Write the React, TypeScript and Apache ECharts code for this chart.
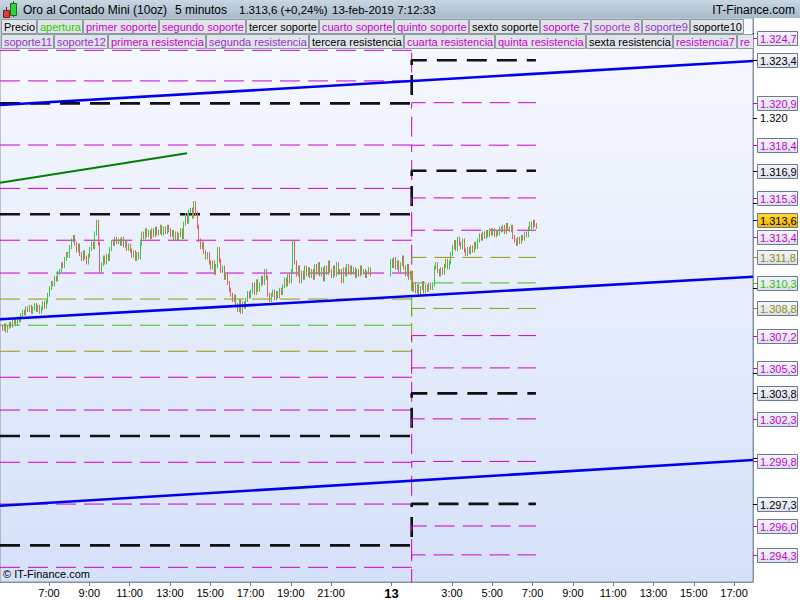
import React, { useEffect, useRef } from 'react';
import * as echarts from 'echarts';

const FONT = '"Liberation Sans", Arial, Helvetica, sans-serif';

// Time is expressed in hours since 12 Feb 2019 00:00 (5-minute bars).
const X_MIN = 4.568;
const X_MAX = 41.94;
const Y_MIN = 1292.706;
const Y_MAX = 1325.882;
const DAY_BREAK = 25; // 13 Feb 1:00, new pivot levels take over
const PLOT_RIGHT = 753;

// 12 Feb 2019, 4:40 to 22:55
const FEB12_FIRST_BAR = 4 + 40 / 60;
const FEB12_OPEN = 1307.7;
const closesFeb12: number[] = [
  // 4:40
  1307.6, 1307.8, 1307.5, 1307.7,
  // 5:00
  1307.9, 1307.8, 1308.0, 1308.1, 1307.9, 1308.2, 1308.1, 1308.4, 1308.6, 1308.5, 1308.8, 1308.7,
  // 6:00
  1308.9, 1308.6, 1308.8, 1309.0, 1308.7, 1308.9, 1308.6, 1308.8, 1309.1, 1308.9, 1309.2, 1309.6,
  // 7:00
  1310.0, 1310.3, 1310.2, 1310.6, 1310.5, 1310.9, 1311.0, 1311.4, 1311.3, 1311.7, 1312.0, 1311.9,
  // 8:00
  1312.4, 1312.8, 1313.0, 1312.6, 1312.2, 1312.5, 1312.0, 1311.7, 1312.1, 1311.8, 1311.5, 1311.9,
  // 9:00
  1312.3, 1312.6, 1312.4, 1313.2, 1313.9, 1312.6, 1311.0, 1311.4, 1311.8, 1311.5, 1311.9, 1311.7,
  // 10:00
  1312.3, 1312.7, 1312.6, 1312.9, 1312.7, 1312.8, 1312.6, 1312.9, 1312.5, 1312.7, 1312.3, 1312.5,
  // 11:00
  1312.2, 1311.9, 1312.1, 1311.7, 1312.0, 1311.8, 1312.6, 1313.2, 1313.0, 1313.4, 1313.1, 1313.3,
  // 12:00
  1313.0, 1313.4, 1313.1, 1313.5, 1313.2, 1313.3, 1313.6, 1313.2, 1313.5, 1313.3, 1313.6, 1313.4,
  // 13:00
  1313.1, 1313.3, 1312.9, 1313.2, 1312.9, 1313.1, 1313.4, 1313.0, 1313.8, 1314.3, 1313.9, 1314.5,
  // 14:00
  1314.6, 1314.2, 1315.0, 1314.4, 1313.6, 1312.8, 1312.4, 1312.6, 1312.1, 1311.8, 1312.0, 1311.5,
  // 15:00
  1311.2, 1311.5, 1310.9, 1311.3, 1312.3, 1311.6, 1311.0, 1311.2, 1310.6, 1310.8, 1310.3, 1309.9,
  // 16:00
  1309.6, 1309.3, 1309.5, 1309.0, 1308.7, 1309.2, 1308.6, 1309.1, 1308.9, 1309.3, 1309.7, 1309.5,
  // 17:00
  1309.8, 1310.2, 1309.7, 1310.4, 1309.9, 1310.2, 1310.6, 1310.3, 1311.0, 1310.6, 1309.6, 1309.3,
  // 18:00
  1309.6, 1309.8, 1309.4, 1309.7, 1309.5, 1309.9, 1309.7, 1310.1, 1310.5, 1310.2, 1310.7, 1310.4,
  // 19:00
  1311.0, 1312.7, 1311.5, 1310.8, 1311.2, 1310.4, 1310.9, 1310.6, 1311.2, 1310.8, 1311.1, 1310.7,
  // 20:00
  1311.0, 1310.6, 1311.3, 1310.9, 1311.4, 1310.8, 1311.1, 1310.5, 1311.2, 1310.9, 1311.5, 1311.0,
  // 21:00
  1310.7, 1311.2, 1310.8, 1311.4, 1310.9, 1311.0, 1310.4, 1311.1, 1310.8, 1311.3, 1310.9, 1311.2,
  // 22:00
  1310.9, 1311.1, 1310.7, 1311.0, 1310.8, 1311.2, 1310.9, 1311.0, 1310.7, 1310.9, 1311.1, 1310.8,
];

// 12 Feb 23:55 to 13 Feb 7:10
const FEB13_FIRST_BAR = 23 + 55 / 60;
const closesFeb13: number[] = [
  // 23:55
  1311.6,
  // 0:00
  1311.3, 1311.7, 1311.2, 1311.5, 1311.0, 1311.4, 1311.8, 1311.2, 1310.8, 1311.3, 1310.6, 1310.9,
  // 1:00
  1309.9, 1310.2, 1309.8, 1310.1, 1309.7, 1310.0, 1310.3, 1309.8, 1310.1, 1309.9, 1310.2, 1310.0,
  // 2:00
  1310.2, 1311.2, 1311.4, 1311.0, 1310.8, 1311.1, 1310.9, 1311.3, 1311.6, 1311.2, 1311.5, 1312.0,
  // 3:00
  1312.4, 1312.7, 1312.3, 1312.9, 1312.6, 1312.4, 1312.8, 1312.2, 1312.0, 1312.3, 1312.1, 1312.4,
  // 4:00
  1312.2, 1312.6, 1312.4, 1312.8, 1313.1, 1312.9, 1313.2, 1313.0, 1313.3, 1313.1, 1313.4, 1313.2,
  // 5:00
  1313.4, 1313.1, 1313.3, 1313.2, 1313.5, 1313.4, 1313.6, 1313.3, 1313.7, 1313.5, 1313.4, 1313.6,
  // 6:00
  1313.0, 1312.8, 1312.6, 1312.9, 1312.7, 1313.0, 1312.9, 1313.2, 1313.1, 1313.5, 1313.8, 1313.6,
  // 7:00
  1313.9, 1313.7, 1313.6,
];

const INSTRUMENT = 'Oro al Contado Mini (10oz)';
const PERIOD = '5 minutos';
const CHANGE_PCT = '+0,24%';
const TIMESTAMP = '13-feb-2019 7:12:33';

// Pivot levels: value on 12 Feb, value on 13 Feb, and the kind of level
const levelsFeb12: number[] = [
  1323.98, 1322.18, 1320.86, 1318.41, 1315.86, 1314.34, 1312.81, 1310.88, 1309.35, 1307.81,
  1306.28, 1304.75, 1302.82, 1301.29, 1299.75, 1297.29, 1294.86, 1293.57, 1291.8,
];
const levelsFeb13: number[] = [
  1326.5, 1324.7, 1323.4, 1320.9, 1318.4, 1316.9, 1315.3, 1313.4, 1311.8, 1310.3,
  1308.8, 1307.2, 1305.3, 1303.8, 1302.3, 1299.8, 1297.3, 1296.0, 1294.3,
];
const levelKinds: string[] = [
  'm', 'm', 'B', 'm', 'm', 'B', 'm', 'm', 'o', 'g', 'o', 'm', 'm', 'B', 'm', 'm', 'B', 'm', 'm',
];

// Trend lines [time, price]
const channelTop: number[][] = [[X_MIN, 1320.76], [X_MAX, 1323.35]];
const channelMid: number[][] = [[X_MIN, 1308.16], [X_MAX, 1310.66]];
const channelLow: number[][] = [[X_MIN, 1297.19], [X_MAX, 1299.88]];
const shortTrend: number[][] = [[X_MIN, 1316.19], [13.85, 1317.92]];

const xTickHours: number[] = [7, 9, 11, 13, 15, 17, 19, 21, 24, 27, 29, 31, 33, 35, 37, 39, 41];
const yTickPrices: number[] = [1300, 1305, 1310, 1315, 1320, 1325];

const legendRow1: string[] = [
  'Precio', 'apertura', 'primer soporte', 'segundo soporte', 'tercer soporte', 'cuarto soporte',
  'quinto soporte', 'sexto soporte', 'soporte 7', 'soporte 8', 'soporte9', 'soporte10',
];
const legendRow2: string[] = [
  'soporte11', 'soporte12', 'primera resistencia', 'segunda resistencia', 'tercera resistencia',
  'cuarta resistencia', 'quinta resistencia', 'sexta resistencia', 'resistencia7', 'resistencia8',
];

const MAGENTA = '#cc00cc';
const PURPLE = '#9933cc';
const VIOLET = '#b030d0';
const GREEN_TXT = '#33cc00';
const legendColors1 = ['#000', GREEN_TXT, MAGENTA, MAGENTA, '#000', MAGENTA, MAGENTA, '#000', MAGENTA, VIOLET, PURPLE, '#000'];
const legendColors2 = [PURPLE, PURPLE, MAGENTA, PURPLE, '#000', MAGENTA, MAGENTA, '#000', MAGENTA, MAGENTA];

const kindLine: Record<string, { color: string; width: number; dash: number[] }> = {
  m: { color: '#cc00cc', width: 1, dash: [20, 8] },
  B: { color: '#111111', width: 2.6, dash: [20, 10] },
  o: { color: '#999900', width: 1, dash: [20, 8] },
  g: { color: '#44c020', width: 1, dash: [20, 8] },
};
const kindText: Record<string, string> = { m: '#cc00cc', B: '#000000', o: '#8f8f00', g: '#33bb00' };

function fmtPrice(v: number, dec: number): string {
  const s = v.toFixed(dec);
  const [int, frac] = s.split('.');
  const grouped = int.replace(/\B(?=(\d{3})+(?!\d))/g, '.');
  return frac ? `${grouped},${frac}` : grouped;
}

function buildBars(first: number, open: number, closes: number[]): number[][] {
  return closes.map((c, i) => [first + i / 12, i === 0 ? open : closes[i - 1], c]);
}

export default function App() {
  const ref = useRef<HTMLDivElement>(null);

  useEffect(() => {
    const el = ref.current!;
    const chart = echarts.init(el, null, { renderer: 'svg' });

    const bars = [
      ...buildBars(FEB12_FIRST_BAR, FEB12_OPEN, closesFeb12),
      ...buildBars(FEB13_FIRST_BAR, closesFeb12[closesFeb12.length - 1], closesFeb13),
    ];
    const lastBarTime = FEB13_FIRST_BAR + (closesFeb13.length - 1) / 12;
    const lastClose = closesFeb13[closesFeb13.length - 1];

    const levelSeries = levelsFeb12.map((l, i) => {
      const st = kindLine[levelKinds[i]];
      return {
        type: 'line',
        data: [[X_MIN, l], [DAY_BREAK, l], [DAY_BREAK, levelsFeb13[i]], [lastBarTime, levelsFeb13[i]]],
        symbol: 'none',
        silent: true,
        z: 2,
        lineStyle: { color: st.color, width: st.width, type: st.dash, cap: 'butt' },
      };
    });

    const trend = (data: number[][], color: string, width: number) => ({
      type: 'line',
      data,
      symbol: 'none',
      silent: true,
      z: 4,
      lineStyle: { color, width, type: 'solid' },
    });

    const option: any = {
      animation: false,
      backgroundColor: '#ffffff',
      grid: {
        left: 0,
        right: 800 - PLOT_RIGHT,
        top: 18,
        bottom: 18,
        show: true,
        borderColor: '#8494a4',
        borderWidth: 1,
        backgroundColor: {
          type: 'linear', x: 0, y: 0, x2: 0, y2: 1,
          colorStops: [
            { offset: 0, color: '#f8f9ff' },
            { offset: 1, color: '#d5e1f9' },
          ],
        },
      },
      xAxis: {
        type: 'value',
        min: X_MIN,
        max: X_MAX,
        splitLine: { show: false },
        axisLine: { show: true, lineStyle: { color: '#8494a4' } },
        axisTick: { show: true, customValues: xTickHours, length: 4, lineStyle: { color: '#6f7f8f' } },
        axisLabel: {
          customValues: xTickHours,
          color: '#000',
          fontSize: 11,
          fontFamily: FONT,
          margin: 5,
          formatter: (v: number) => (Math.round(v) === 24 ? '{d|13}' : `${Math.round(v) % 24}:00`),
          rich: { d: { fontWeight: 'bold', fontSize: 13, fontFamily: FONT, color: '#000' } },
        },
      },
      yAxis: {
        type: 'value',
        position: 'right',
        min: Y_MIN,
        max: Y_MAX,
        scale: true,
        splitLine: { show: false },
        axisLine: { show: true, lineStyle: { color: '#8494a4' } },
        axisTick: { show: true, customValues: yTickPrices, length: 4, lineStyle: { color: '#000' } },
        axisLabel: {
          customValues: yTickPrices,
          color: '#000',
          fontSize: 11,
          fontFamily: FONT,
          margin: 7,
          formatter: (v: number) => fmtPrice(v, 0),
        },
      },
      series: [
        ...levelSeries,
        {
          type: 'custom',
          data: bars,
          encode: { x: 0, y: [1, 2] },
          clip: true,
          silent: true,
          z: 3,
          renderItem: (_params: any, api: any) => {
            const t = api.value(0);
            const o = api.value(1);
            const c = api.value(2);
            const p1 = api.coord([t, o]);
            const p2 = api.coord([t, c]);
            // bar body plus a short wick on both ends
            const y1 = Math.min(p1[1], p2[1]) - 2;
            const y2 = Math.max(p1[1], p2[1]) + 2;
            return {
              type: 'rect',
              shape: { x: Math.round(p1[0]), y: y1, width: 1, height: y2 - y1 },
              style: { fill: c >= o ? '#3ec83e' : '#e06262' },
            };
          },
        },
        trend(channelTop, '#0000ee', 2.6),
        trend(channelMid, '#0000ee', 2.6),
        trend(channelLow, '#0000ee', 2.6),
        trend(shortTrend, '#008000', 2),
      ],
    };

    chart.setOption(option);

    // ---- overlays: title bar, legend rows, price tags ----
    const ctx = document.createElement('canvas').getContext('2d')!;
    ctx.font = `11px ${FONT}`;
    const textW = (t: string) => ctx.measureText(t).width;

    const txt = (x: number, y: number, text: string, fill: string, font: string, align = 'left', z = 101) => ({
      type: 'text',
      x,
      y,
      z,
      silent: true,
      style: {
        text, fill, font,
        align, textAlign: align,
        verticalAlign: 'middle', textVerticalAlign: 'middle',
      },
    });

    const elements: any[] = [];

    // Title bar
    elements.push({
      type: 'rect', z: 100, silent: true,
      shape: { x: 0, y: 0, width: 800, height: 18 },
      style: {
        fill: {
          type: 'linear', x: 0, y: 0, x2: 0, y2: 1,
          colorStops: [{ offset: 0, color: '#c9d7e3' }, { offset: 1, color: '#a6bac9' }],
        },
      },
    });
    // candle icon
    elements.push({ type: 'line', z: 101, silent: true, shape: { x1: 6.5, y1: 7, x2: 6.5, y2: 18 }, style: { stroke: '#702020', lineWidth: 1 } });
    elements.push({ type: 'rect', z: 102, silent: true, shape: { x: 3.5, y: 10.5, width: 6, height: 7 }, style: { fill: '#e03a3a', stroke: '#702020', lineWidth: 1 } });
    elements.push({ type: 'line', z: 101, silent: true, shape: { x1: 13.5, y1: 1, x2: 13.5, y2: 17 }, style: { stroke: '#1f6a1f', lineWidth: 1 } });
    elements.push({ type: 'rect', z: 102, silent: true, shape: { x: 10.5, y: 3.5, width: 6, height: 12 }, style: { fill: '#3ad03a', stroke: '#1f6a1f', lineWidth: 1 } });

    const titleFont = `12px ${FONT}`;
    elements.push(txt(23, 9.5, INSTRUMENT, '#000', titleFont));
    elements.push(txt(175, 9.5, PERIOD, '#000', titleFont));
    elements.push(txt(239, 9.5, `${fmtPrice(lastClose, 1)} (${CHANGE_PCT})`, '#000', `11.5px ${FONT}`));
    elements.push(txt(332, 9.5, TIMESTAMP, '#000', `11.5px ${FONT}`));
    elements.push(txt(795, 9.5, 'IT-Finance.com', '#000', `12px ${FONT}`, 'right'));

    // Legend rows; an entry running past the plot's right edge is cut off there
    const legendRow = (names: string[], colors: string[], y: number) => {
      let x = 1;
      names.forEach((name, i) => {
        if (x >= PLOT_RIGHT) return;
        let w = Math.round(textW(name) + 4);
        let label = name;
        if (x + w > PLOT_RIGHT) {
          w = PLOT_RIGHT - x;
          while (label.length > 0 && textW(label) + 3 > w) label = label.slice(0, -1);
        }
        elements.push({
          type: 'rect', z: 100, silent: true,
          shape: { x: x + 0.5, y: y + 0.5, width: w, height: 14 },
          style: { fill: '#dfe4e8', stroke: '#8e99a3', lineWidth: 1 },
        });
        if (label) elements.push(txt(x + 3, y + 8, label, colors[i], `11px ${FONT}`));
        x += w + 1;
      });
    };
    legendRow(legendRow1, legendColors1, 19);
    legendRow(legendRow2, legendColors2, 34);
    elements.push({ type: 'rect', z: 103, silent: true, shape: { x: PLOT_RIGHT + 1, y: 19, width: 46, height: 30 }, style: { fill: '#ffffff' } });

    // Footer
    elements.push(txt(3, 574, '\u00a9 IT-Finance.com', '#000', `11px ${FONT}`));

    // Price tags on the right axis
    const toY = (v: number) => chart.convertToPixel({ yAxisIndex: 0 }, v) as number;
    type Tag = { value: number; color: string; y: number; current: boolean };
    const tags: Tag[] = [];
    levelsFeb13.forEach((v, i) => {
      if (v >= Y_MIN && v <= Y_MAX) {
        tags.push({ value: v, color: kindText[levelKinds[i]], y: toY(v), current: false });
      }
    });
    tags.push({ value: lastClose, color: '#000', y: toY(lastClose), current: true });
    tags.sort((a, b) => a.y - b.y);
    const GAP = 17;
    for (let iter = 0; iter < 60; iter++) {
      let moved = false;
      for (let i = 1; i < tags.length; i++) {
        const d = tags[i].y - tags[i - 1].y;
        if (d < GAP) {
          const s = (GAP - d) / 2;
          tags[i - 1].y -= s;
          tags[i].y += s;
          moved = true;
        }
      }
      if (!moved) break;
    }
    tags.forEach((t) => {
      const y = Math.round(t.y);
      elements.push({
        type: 'line', z: 110, silent: true,
        shape: { x1: PLOT_RIGHT, y1: y + 0.5, x2: PLOT_RIGHT + 5, y2: y + 0.5 },
        style: { stroke: t.current ? '#000' : t.color, lineWidth: 1 },
      });
      elements.push({
        type: 'rect', z: 110, silent: true,
        shape: { x: 757.5, y: y - 6.5, width: 40, height: 14 },
        style: {
          fill: t.current
            ? { type: 'linear', x: 0, y: 0, x2: 0, y2: 1, colorStops: [{ offset: 0, color: '#ffd633' }, { offset: 1, color: '#f2b800' }] }
            : { type: 'linear', x: 0, y: 0, x2: 0, y2: 1, colorStops: [{ offset: 0, color: '#f4f6fc' }, { offset: 1, color: '#d9e0ec' }] },
          stroke: '#6b7b8b',
          lineWidth: 1,
        },
      });
      elements.push(txt(760, y + 1, fmtPrice(t.value, 1), t.color, `11px ${FONT}`, 'left', 111));
    });

    // axis price labels that would sit under a tag are left out
    const freeTicks = yTickPrices.filter((p) => {
      const py = toY(p);
      return tags.every((t) => Math.abs(t.y - py) >= 14);
    });

    chart.setOption({
      yAxis: { axisLabel: { customValues: freeTicks } },
      graphic: elements,
    });

    return () => chart.dispose();
  }, []);

  return (
    <div
      ref={ref}
      style={{ position: 'absolute', left: 0, top: 0, width: 800, height: 600, background: '#fff' }}
    />
  );
}
